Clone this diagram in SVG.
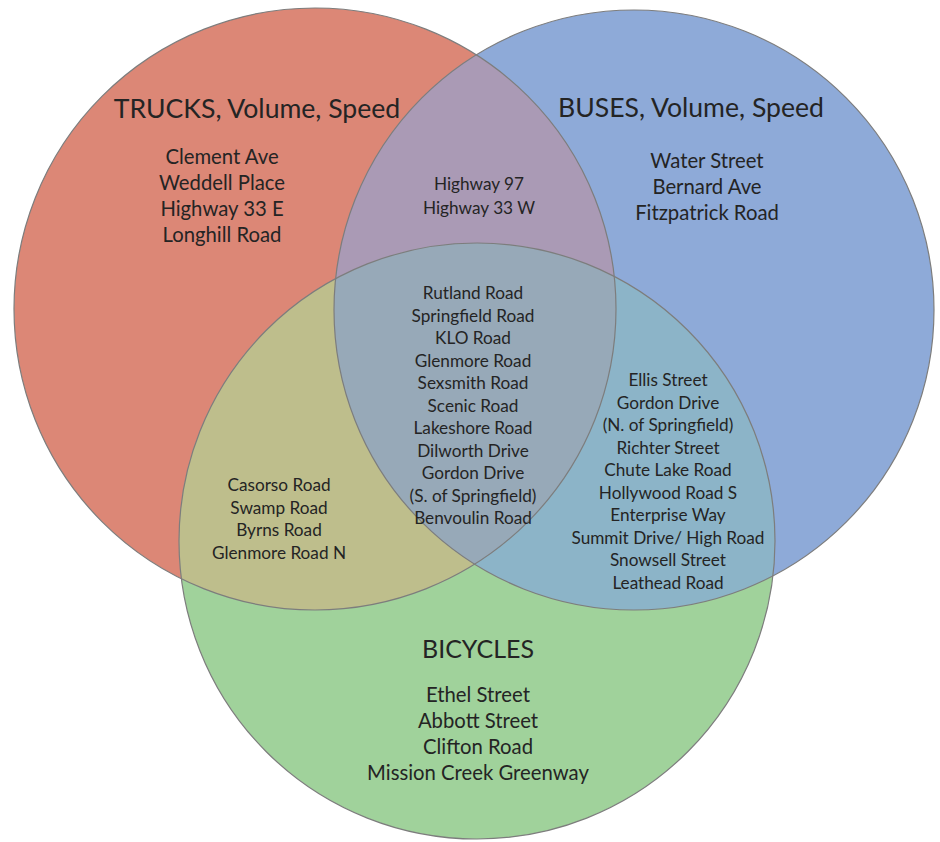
<svg xmlns="http://www.w3.org/2000/svg" width="940" height="842" viewBox="0 0 940 842">
<style>
text{font-family:Lato,"Open Sans","Liberation Sans",sans-serif;fill:#242424;text-anchor:middle}
.title{font-size:26.6px}
.big{font-size:20.3px}
.sm{font-size:17.2px}
.outline{fill:none;stroke:#7d7d7d;stroke-width:1.2}
</style>
<defs>
<circle id="cr" cx="315" cy="309" r="301"/>
<circle id="cb" cx="634" cy="310" r="300"/>
<circle id="cg" cx="477" cy="541" r="298"/>
<clipPath id="clipR"><use href="#cr"/></clipPath>
<clipPath id="clipB"><use href="#cb"/></clipPath>
</defs>
<rect width="940" height="842" fill="#ffffff"/>
<g id="trucks-circle"><use href="#cr" fill="#DC8776"/></g>
<g id="buses-circle"><use href="#cb" fill="#8EAAD8"/></g>
<g id="bicycles-circle"><use href="#cg" fill="#A0D29B"/></g>
<g id="overlaps">
<use href="#cb" fill="#AA9AB5" clip-path="url(#clipR)"/>
<use href="#cg" fill="#BEBE8C" clip-path="url(#clipR)"/>
<use href="#cg" fill="#8CB4C8" clip-path="url(#clipB)"/>
<g clip-path="url(#clipB)"><use href="#cg" fill="#97A9B8" clip-path="url(#clipR)"/></g>
</g>
<g id="outlines">
<use href="#cr" class="outline"/>
<use href="#cb" class="outline"/>
<use href="#cg" class="outline"/>
</g>
<g id="trucks">
<text class="title" x="257" y="118">TRUCKS, Volume, Speed</text>
<text class="big" x="222" y="164">Clement Ave</text>
<text class="big" x="222" y="190">Weddell Place</text>
<text class="big" x="222" y="216">Highway 33 E</text>
<text class="big" x="222" y="242">Longhill Road</text>
</g>
<g id="buses">
<text class="title" x="691" y="117">BUSES, Volume, Speed</text>
<text class="big" x="707" y="168">Water Street</text>
<text class="big" x="707" y="194">Bernard Ave</text>
<text class="big" x="707" y="220">Fitzpatrick Road</text>
</g>
<g id="trucks-buses">
<text class="sm" x="479" y="190">Highway 97</text>
<text class="sm" x="479" y="214">Highway 33 W</text>
</g>
<g id="all-three">
<text class="sm" x="473" y="299">Rutland Road</text>
<text class="sm" x="473" y="321.5">Springfield Road</text>
<text class="sm" x="473" y="344">KLO Road</text>
<text class="sm" x="473" y="366.5">Glenmore Road</text>
<text class="sm" x="473" y="389">Sexsmith Road</text>
<text class="sm" x="473" y="411.5">Scenic Road</text>
<text class="sm" x="473" y="434">Lakeshore Road</text>
<text class="sm" x="473" y="456.5">Dilworth Drive</text>
<text class="sm" x="473" y="479">Gordon Drive</text>
<text class="sm" x="473" y="501.5">(S. of Springfield)</text>
<text class="sm" x="473" y="524">Benvoulin Road</text>
</g>
<g id="trucks-bicycles">
<text class="sm" x="279" y="491">Casorso Road</text>
<text class="sm" x="279" y="513.5">Swamp Road</text>
<text class="sm" x="279" y="536">Byrns Road</text>
<text class="sm" x="279" y="558.5">Glenmore Road N</text>
</g>
<g id="buses-bicycles">
<text class="sm" x="668" y="386">Ellis Street</text>
<text class="sm" x="668" y="408.5">Gordon Drive</text>
<text class="sm" x="668" y="431">(N. of Springfield)</text>
<text class="sm" x="668" y="453.5">Richter Street</text>
<text class="sm" x="668" y="476">Chute Lake Road</text>
<text class="sm" x="668" y="498.5">Hollywood Road S</text>
<text class="sm" x="668" y="521">Enterprise Way</text>
<text class="sm" x="668" y="543.5">Summit Drive/ High Road</text>
<text class="sm" x="668" y="566">Snowsell Street</text>
<text class="sm" x="668" y="588.5">Leathead Road</text>
</g>
<g id="bicycles">
<text class="title" x="478" y="658" style="font-size:25px">BICYCLES</text>
<text class="big" x="478" y="702">Ethel Street</text>
<text class="big" x="478" y="728">Abbott Street</text>
<text class="big" x="478" y="754">Clifton Road</text>
<text class="big" x="478" y="780">Mission Creek Greenway</text>
</g>
</svg>
